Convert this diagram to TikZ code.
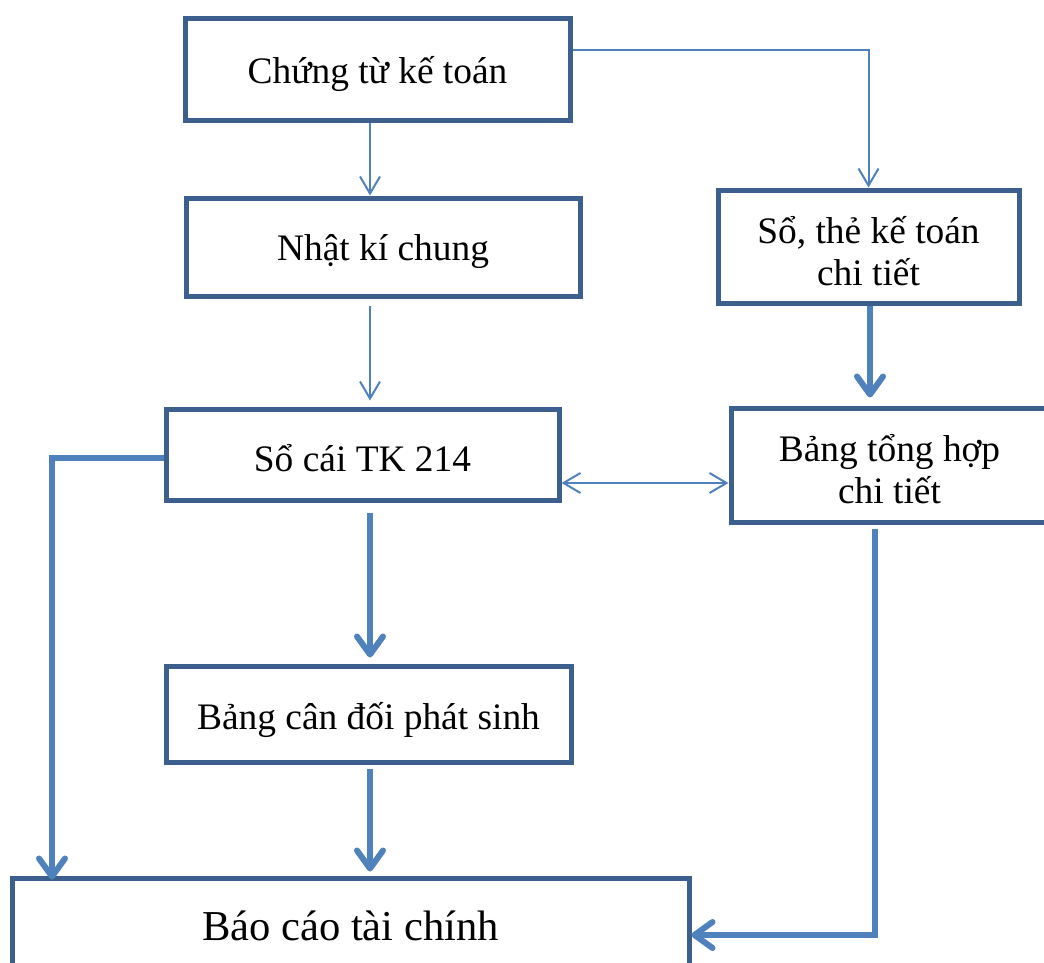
\documentclass[tikz,border=0pt]{standalone}
\usepackage{fontspec}
\setmainfont{Liberation Serif}
\usetikzlibrary{arrows.meta,positioning}
\definecolor{khung}{HTML}{3C5F8E}
\definecolor{muiten}{HTML}{4F81BD}
\tikzset{
  hop/.style={draw=khung,line width=2.5pt,fill=white,inner sep=0pt},
  chu/.style={align=center,inner sep=0pt,yshift=-2.2pt,font=\fontsize{18.7}{21}\selectfont},
  mong/.style={draw=muiten,line width=1pt,-{Straight Barb[length=8.5pt,width=10pt]}},
  day/.style={draw=muiten,line width=3pt,-{Straight Barb[length=9pt,width=13pt,round]}},
  haichieu/.style={draw=muiten,line width=1pt,{Straight Barb[length=8.5pt,width=10pt]}-{Straight Barb[length=8.5pt,width=10pt]}}
}
\begin{document}
\begin{tikzpicture}[x=0.5pt,y=-0.5pt]
\useasboundingbox (0,0) rectangle (1044,963);
\clip (0,0) rectangle (1044,963);
% cac hop
\node[hop,minimum width=192.5pt,minimum height=51pt,label={[chu]center:Chứng từ kế toán}] (ct) at (377.5,70) {};
\node[hop,minimum width=197pt,minimum height=49pt,label={[chu]center:Nhật kí chung}] (nk) at (383,247) {};
\node[hop,minimum width=150.5pt,minimum height=56.5pt,label={[chu]center:{Sổ, thẻ kế toán\\chi tiết}}] (sct) at (868.5,246.5) {};
\node[hop,minimum width=196.5pt,minimum height=45.5pt,label={[chu,yshift=0.6pt]center:Sổ cái TK 214}] (sc) at (362.5,454.5) {};
\node[hop,minimum width=158.5pt,minimum height=57pt,label={[chu]center:{Bảng tổng hợp\\chi tiết}}] (bth) at (889.5,465) {};
\node[hop,minimum width=202.5pt,minimum height=48pt,label={[chu,yshift=-0.8pt]center:Bảng cân đối phát sinh}] (bcd) at (368.5,714) {};
\node[hop,minimum width=338.5pt,minimum height=46pt,label={[chu,yshift=1.5pt,font=\fontsize{21.3}{24}\selectfont]center:Báo cáo tài chính}] (bc) at (350.5,924) {};
% truc cho cac mui ten
\coordinate (truc) at (370,0);
\coordinate (trai) at (52,0);
\coordinate (hang) at (0,483);
\coordinate (goc) at (875,935);
% mui ten
\draw[mong] (ct.south -| truc) -- (nk.north -| truc);
\draw[mong,shorten <=3.5pt,shorten >=3pt] (nk.south -| truc) -- (sc.north -| truc);
\draw[mong] ([yshift=10pt]ct.east) -| (sct.north);
\draw[day,shorten >=4pt] (sct.south -| 870,0) -- (bth.north -| 870,0);
\draw[haichieu] (sc.east |- hang) -- (bth.west |- hang);
\draw[day] ([yshift=-1.5pt]sc.west) -| ([yshift=-2pt]bc.north -| trai);
\draw[day,shorten <=5pt,shorten >=3pt] (sc.south -| truc) -- (bcd.north -| truc);
\draw[day,shorten <=2pt,shorten >=2pt] (bcd.south -| truc) -- (bc.north -| truc);
\draw[day,shorten <=2pt] (bth.south -| goc) |- (bc.east |- goc);
\end{tikzpicture}
\end{document}
